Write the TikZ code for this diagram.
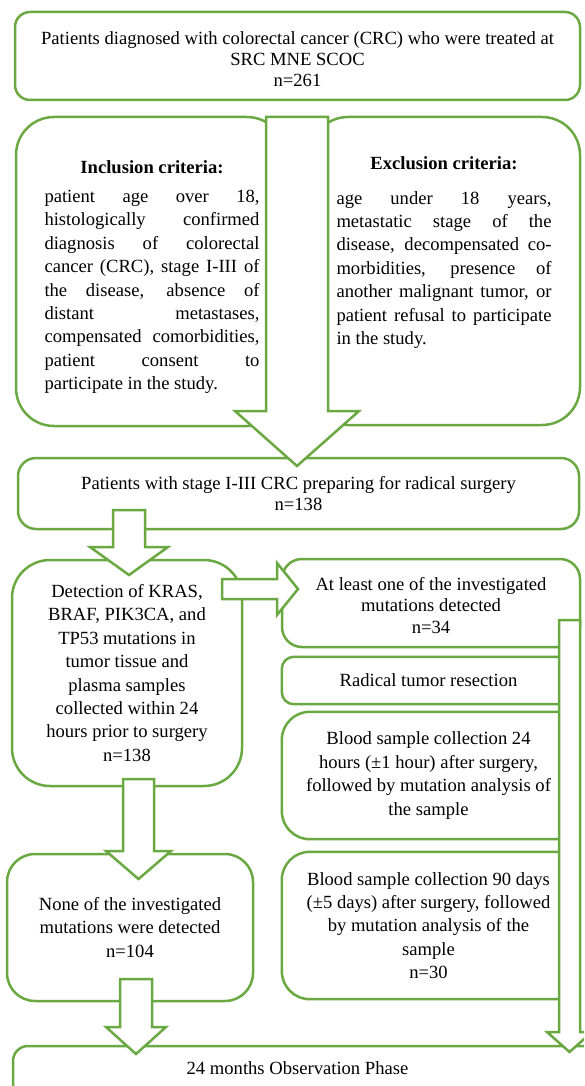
\documentclass[tikz,border=0pt]{standalone}
\usepackage{fontspec}
\setmainfont{Liberation Serif}
\usepackage{tikz}
\definecolor{flowgreen}{RGB}{106,168,66}
\tolerance=10000
\hbadness=10000

\begin{document}
\begin{tikzpicture}[x=1pt,y=-1pt]

  \tikzstyle{box}=[rectangle,draw=flowgreen,line width=2.5pt,inner sep=0pt,
    align=center,font=\fontsize{18.6}{23.4}\selectfont]
  \tikzstyle{txt}=[inner sep=0pt,align=center,font=\fontsize{18.6}{23.4}\selectfont]
  \tikzstyle{crit}=[txt,text width=215pt,align=justify,anchor=north]
  \tikzstyle{open}=[draw=flowgreen,line width=2.5pt]
  \tikzstyle{block}=[draw=flowgreen,fill=white,line width=2.5pt,line join=miter]

  \useasboundingbox (0,0) rectangle (584,1086);
  \clip (0,0) rectangle (584,1086);

  %% boxes
  \node (all)   at (297.5,56)  [box,rounded corners=15pt,minimum width=565pt,minimum height=88pt,
                                font=\fontsize{18.6}{21}\selectfont]
    {\rule{0pt}{20pt}Patients diagnosed with colorectal cancer (CRC) who were treated at\\ SRC MNE SCOC\\ n=261};
  \node (incl)  at (150.5,271.5) [box,rounded corners=38pt,minimum width=269pt,minimum height=309pt] {};
  \node (excl)  at (445,271)   [box,rounded corners=38pt,minimum width=270pt,minimum height=308pt] {};
  \node (stage) at (298.5,493.5) [box,rounded corners=18pt,minimum width=561pt,minimum height=71pt,
                                  font=\fontsize{18.6}{21}\selectfont]
    {Patients with stage I-III CRC preparing for radical surgery\\ n=138};
  \node (detect) at (127,673)  [box,rounded corners=38pt,minimum width=230pt,minimum height=226pt]
    {Detection of KRAS,\\ BRAF, PIK3CA, and\\ TP53 mutations in\\ tumor tissue and\\ plasma samples\\
     collected within 24\\ hours prior to surgery\\ n=138};
  \node (none)  at (130,927.5) [box,rounded corners=28pt,minimum width=246pt,minimum height=147pt]
    {None of the investigated\\ mutations were detected\\ n=104};
  \node (found) at (431,603)   [box,rounded corners=20pt,minimum width=298pt,minimum height=88pt,
                                font=\fontsize{18.6}{21.5}\selectfont]
    {\rule{0pt}{18pt}At least one of the investigated\\ mutations detected\\ n=34};
  \node (resect) at (428.5,680.5) [txt,minimum width=293pt,minimum height=47pt]
    {Radical tumor resection};
  \node (blood24) at (428.5,775.5) [txt,minimum width=293pt,minimum height=127pt]
    {Blood sample collection 24\\ hours (±1 hour) after surgery,\\ followed by mutation analysis of\\ the sample};
  \node (blood90) at (428.5,925.5) [txt,minimum width=293pt,minimum height=147pt]
    {Blood sample collection 90 days\\ (±5 days) after surgery, followed\\ by mutation analysis of the\\ sample\\ n=30};
  \node (observe) at (316.5,1088) [box,rounded corners=15pt,minimum width=607pt,minimum height=84pt] {};

  %% texts of the criteria and of the last box
  \node (inclhead) at (152,167) [txt] {\textbf{Inclusion criteria:}};
  \node (exclhead) at (444,163) [txt] {\textbf{Exclusion criteria:}};
  \node (incltext) at (152,190) [crit]
    {patient age over 18,\linebreak histologically confirmed\linebreak diagnosis of colorectal\linebreak
     cancer (CRC), stage I-III of\linebreak the disease, absence of\linebreak distant metastases,\linebreak
     compensated comorbidities,\linebreak patient consent to\linebreak participate in the study.};
  \node (excltext) at (444,191) [crit]
    {age under 18 years,\linebreak metastatic stage of the\linebreak disease, decompensated co-\linebreak
     morbidities, presence of\linebreak another malignant tumor, or\linebreak patient refusal to participate\linebreak
     in the study.};
  \node (observetext) at (297.5,1068) [txt] {24 months Observation Phase};

  %% right column, open towards the long arrow
  \draw [open,rounded corners=12pt] (resect.north east) -- (resect.north west)
        -- (resect.south west) -- (resect.south east);
  \draw [open,rounded corners=28pt] (blood24.north east) -- (blood24.north west)
        -- (blood24.south west) -- (blood24.south east);
  \draw [open,rounded corners=28pt] (blood90.north east) -- (blood90.north west)
        -- (blood90.south west) -- (blood90.south east);

  %% block arrows
  \draw [block] (266,117) -- (266,411) -- (235,411) -- (297,466)
        -- (359,411) -- (328,411) -- (328,117) -- cycle;
  \draw [block] (113,510) -- (113,547) -- (90,547) -- (129,575)
        -- (168,547) -- (145,547) -- (145,510) -- cycle;
  \draw [block] (222,579) -- (277,579) -- (277,563) -- (298,589)
        -- (277,615) -- (277,599) -- (222,599) -- cycle;
  \draw [block] (123,779) -- (123,851) -- (106,851) -- (138.5,879)
        -- (171,851) -- (154,851) -- (154,779) -- cycle;
  \draw [block] (120,979) -- (120,1027) -- (106,1027) -- (136,1054)
        -- (166,1027) -- (152,1027) -- (152,979) -- cycle;
  \draw [block] (559,620) -- (559,1032) -- (547,1032) -- (569.5,1052)
        -- (592,1032) -- (580,1032) -- (580,620) -- cycle;
\end{tikzpicture}
\end{document}
